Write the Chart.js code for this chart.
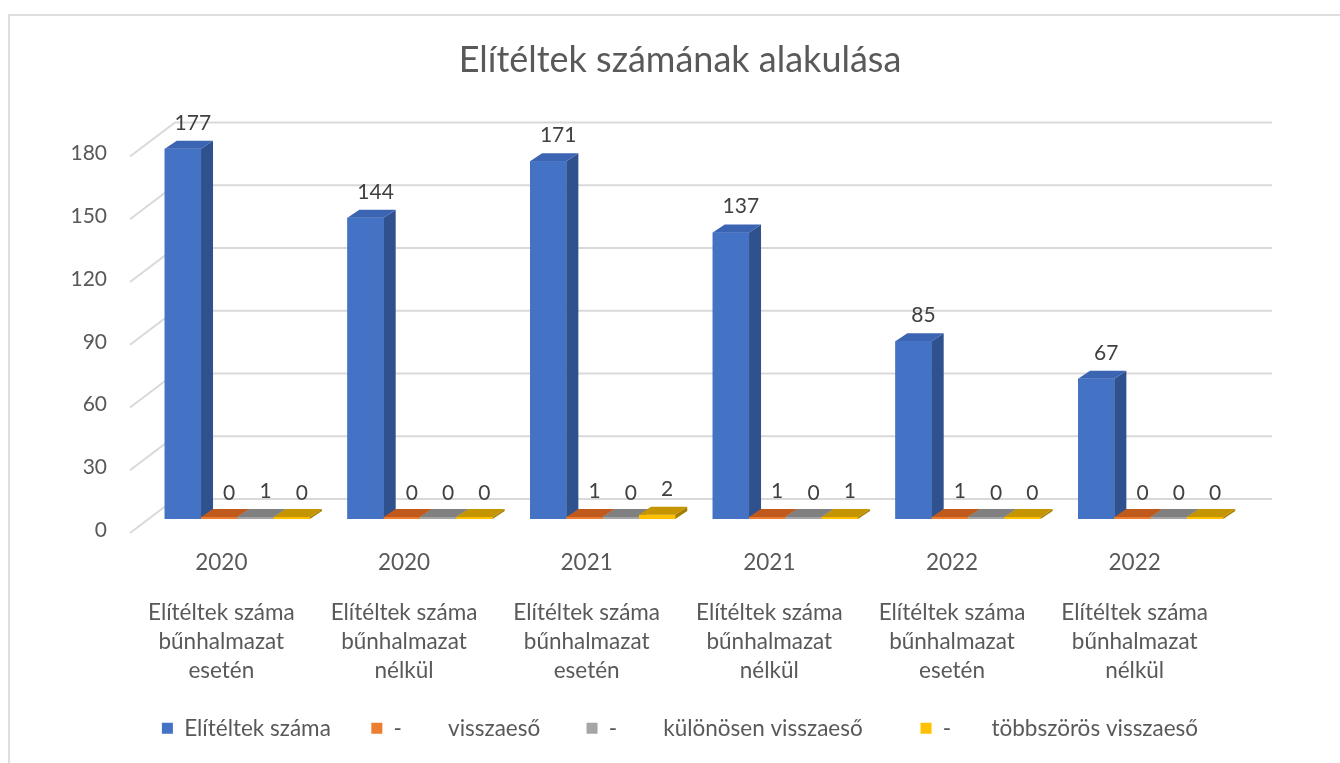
<!DOCTYPE html>
<html>
<head>
<meta charset="utf-8">
<script src="https://cdn.jsdelivr.net/npm/chart.js@4/dist/chart.umd.min.js"></script>
<style>
  body { margin: 0; background: #fff; }
  #wrap { position: relative; width: 1340px; height: 763px; }
  #frame { position: absolute; left: 8px; top: 14px; right: 0; bottom: 0;
           border-left: 2px solid #dedede; border-top: 2px solid #dedede; }
  #chart { position: absolute; left: 0; top: 0; }
</style>
</head>
<body>
<div id="wrap">
  <div id="frame"></div>
  <canvas id="chart" width="1340" height="763"></canvas>
</div>
<script>
// adatok
const years = ['2020', '2020', '2021', '2021', '2022', '2022'];
const groupNames = [
  ['Elítéltek száma', 'bűnhalmazat', 'esetén'],
  ['Elítéltek száma', 'bűnhalmazat', 'nélkül'],
  ['Elítéltek száma', 'bűnhalmazat', 'esetén'],
  ['Elítéltek száma', 'bűnhalmazat', 'nélkül'],
  ['Elítéltek száma', 'bűnhalmazat', 'esetén'],
  ['Elítéltek száma', 'bűnhalmazat', 'nélkül']
];
const seriesNames = [
  'Elítéltek száma  ',
  '-        visszaeső   ',
  '-        különösen visszaeső     ',
  '-       többszörös visszaeső'
];
const elitelt = [177, 144, 171, 137, 85, 67];
const visszaeso = [0, 0, 1, 1, 1, 0];
const kulonosen = [1, 0, 0, 0, 0, 0];
const tobbszoros = [0, 0, 2, 1, 0, 0];
const yTicks = [0, 30, 60, 90, 120, 150, 180];

const frontColors = ['#4472c4', '#ed7d31', '#a5a5a5', '#ffc000'];
const topColors = ['#3b64b2', '#c05a1c', '#808080', '#c49500'];
const sideColors = ['#2f528f', '#a14a15', '#6e6e6e', '#a67e00'];
const DX = 12, DY = 8;
const txt = '#595959';

// hátsó fal rácsvonalai
const wallPlugin = {
  id: 'wall',
  beforeDatasetsDraw(chart) {
    const ctx = chart.ctx, ca = chart.chartArea, y = chart.scales.y;
    ctx.save();
    ctx.strokeStyle = '#d9d9d9';
    ctx.lineWidth = 2;
    yTicks.forEach(v => {
      const py = y.getPixelForValue(v);
      ctx.beginPath();
      ctx.moveTo(ca.left - 16, py + 14);
      ctx.lineTo(ca.left + 29, py - 20);
      ctx.lineTo(ca.right + 30, py - 20);
      ctx.stroke();
    });
    ctx.restore();
  }
};

// 3D hatás + értékcímkék
const depthPlugin = {
  id: 'depth',
  afterDatasetsDraw(chart) {
    const ctx = chart.ctx;
    ctx.save();
    chart.data.datasets.forEach((ds, di) => {
      const meta = chart.getDatasetMeta(di);
      meta.data.forEach((bar, i) => {
        const half = bar.width / 2;
        const l = bar.x - half, r = bar.x + half;
        const base = bar.base;
        const top = Math.min(bar.y, base - 2);
        // elülső lap (lapos oszlopoknál is)
        ctx.fillStyle = frontColors[di];
        ctx.fillRect(l, top, r - l, base - top);
        // oldallap
        ctx.fillStyle = sideColors[di];
        ctx.beginPath();
        ctx.moveTo(r, top); ctx.lineTo(r + DX, top - DY);
        ctx.lineTo(r + DX, base - DY); ctx.lineTo(r, base);
        ctx.closePath(); ctx.fill();
        // fedőlap
        ctx.fillStyle = topColors[di];
        ctx.beginPath();
        ctx.moveTo(l, top); ctx.lineTo(l + DX, top - DY);
        ctx.lineTo(r + DX, top - DY); ctx.lineTo(r, top);
        ctx.closePath(); ctx.fill();
        // címke
        ctx.fillStyle = '#404040';
        ctx.font = '21px Lato';
        ctx.textAlign = 'center';
        ctx.textBaseline = 'middle';
        ctx.fillText(String(ds.data[i]), bar.x + 10, bar.y - 26);
      });
    });
    ctx.restore();
  }
};

const ctx = document.getElementById('chart');
new Chart(ctx, {
  type: 'bar',
  data: {
    labels: years,
    datasets: seriesNames.map((name, k) => ({
      label: name,
      data: [elitelt, visszaeso, kulonosen, tobbszoros][k],
      backgroundColor: frontColors[k],
      borderWidth: 0,
      categoryPercentage: 0.795,
      barPercentage: 1,
      xAxisID: 'x',
      yAxisID: 'y'
    }))
  },
  options: {
    responsive: false,
    animation: false,
    devicePixelRatio: 1,
    events: [],
    layout: { padding: { left: 20, right: 0, top: 0, bottom: 13.5 } },
    scales: {
      x: {
        type: 'category',
        position: 'bottom',
        weight: 0,
        grid: { display: false, drawTicks: false },
        border: { display: false },
        ticks: { color: txt, font: { family: 'Lato', size: 22.5 }, padding: 30, labelOffset: -16, maxRotation: 0, autoSkip: false },
        afterFit(s) { s.height = 55; }
      },
      x2: {
        type: 'category',
        position: 'bottom',
        weight: 1,
        labels: groupNames,
        grid: { display: false, drawTicks: false },
        border: { display: false },
        ticks: { color: txt, font: { family: 'Lato', size: 22.5, lineHeight: 1.29 }, padding: 24, labelOffset: -16, maxRotation: 0, autoSkip: false },
        afterFit(s) { s.height = 114; }
      },
      y: {
        min: 0,
        max: 180,
        position: 'left',
        grid: { display: false, drawTicks: false },
        border: { display: false },
        ticks: { stepSize: 30, color: txt, font: { family: 'Lato', size: 21 }, padding: 39, labelOffset: 11 },
        afterFit(s) { s.width = 126; }
      },
      yR: {
        type: 'linear',
        position: 'right',
        grid: { display: false, drawTicks: false },
        border: { display: false },
        ticks: { display: false },
        afterFit(s) { s.width = 98; }
      }
    },
    plugins: {
      title: {
        display: true,
        text: 'Elítéltek számának alakulása',
        color: txt,
        font: { family: 'Lato', size: 36, weight: 'normal' },
        padding: { top: 38.4, bottom: 60.9 }
      },
      legend: {
        position: 'bottom',
        labels: {
          color: txt,
          font: { family: 'Lato', size: 22.5 },
          boxWidth: 11,
          boxHeight: 11,
          padding: 29
        }
      },
      tooltip: { enabled: false }
    }
  },
  plugins: [wallPlugin, depthPlugin]
});
</script>
</body>
</html>
